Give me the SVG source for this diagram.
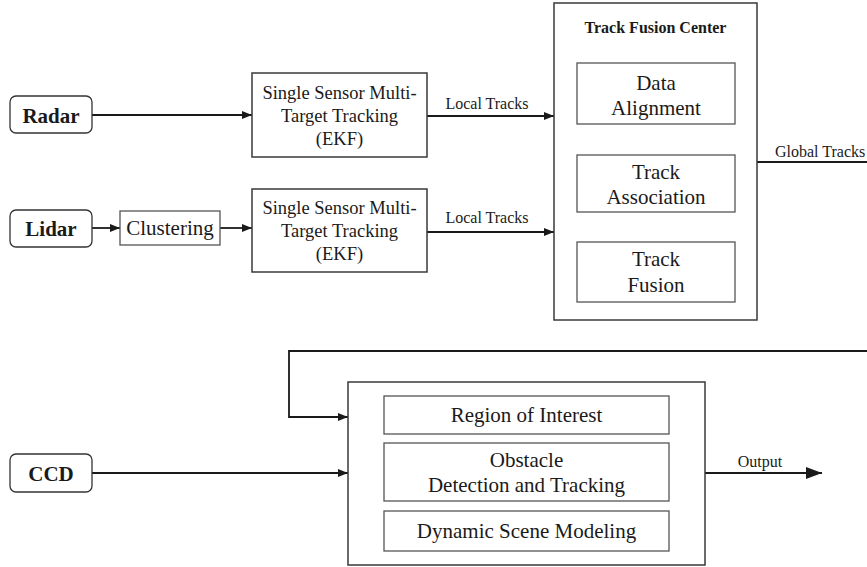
<svg xmlns="http://www.w3.org/2000/svg" width="867" height="567" viewBox="0 0 867 567">
<defs>
<style>
.t{font-family:"Liberation Serif","Times New Roman",serif;fill:#1a1a1a;text-anchor:middle}
.b{font-weight:bold}
.box{fill:#fff;stroke:#3a3a3a;stroke-width:1.5}
.inner{fill:#fff;stroke:#555;stroke-width:1.3}
.src{fill:#fff;stroke:#333;stroke-width:1.3}
.ln{fill:none;stroke:#1a1a1a;stroke-width:1.8}
</style>
<marker id="ah" viewBox="0 0 10 8" refX="10" refY="4" markerWidth="10" markerHeight="8" markerUnits="userSpaceOnUse" orient="auto">
<path d="M0,0 L10,4 L0,8 Z" fill="#1a1a1a"/>
</marker>
<marker id="ahBig" viewBox="0 0 16 12" refX="16" refY="6" markerWidth="16" markerHeight="12" markerUnits="userSpaceOnUse" orient="auto">
<path d="M0,0 L16,6 L0,12 Z" fill="#1a1a1a"/>
</marker>
</defs>
<rect width="867" height="567" fill="#fff"/>

<g id="connectors">
<line class="ln" x1="92" y1="115" x2="252" y2="115" marker-end="url(#ah)"/>
<line class="ln" x1="92" y1="228" x2="120" y2="228" marker-end="url(#ah)"/>
<line class="ln" x1="220" y1="228" x2="252" y2="228" marker-end="url(#ah)"/>
<line class="ln" x1="427" y1="116" x2="554" y2="116" marker-end="url(#ah)"/>
<line class="ln" x1="427" y1="232" x2="554" y2="232" marker-end="url(#ah)"/>
<line class="ln" x1="757" y1="162" x2="867" y2="162"/>
<polyline class="ln" points="867,351 289,351 289,417 348,417" marker-end="url(#ah)"/>
<line class="ln" x1="92" y1="473" x2="348" y2="473" marker-end="url(#ah)"/>
<line class="ln" x1="705" y1="473" x2="822" y2="473" stroke-width="3" marker-end="url(#ahBig)"/>
<text class="t" x="487" y="109" font-size="16">Local Tracks</text>
<text class="t" x="487" y="223" font-size="16">Local Tracks</text>
<text class="t" x="775" y="156.5" font-size="16" text-anchor="start" style="text-anchor:start">Global Tracks</text>
<text class="t" x="760" y="466.5" font-size="16">Output</text>
</g>

<g id="radar">
<rect class="src" x="10" y="96" width="82" height="37" rx="6"/>
<text class="t b" x="51" y="122.5" font-size="21">Radar</text>
</g>
<g id="lidar">
<rect class="src" x="10" y="210" width="82" height="37" rx="6"/>
<text class="t b" x="51" y="236" font-size="21">Lidar</text>
</g>
<g id="ccd">
<rect class="src" x="10" y="454" width="82" height="38" rx="6"/>
<text class="t b" x="51" y="480.5" font-size="21">CCD</text>
</g>
<g id="clustering">
<rect class="inner" x="120" y="211" width="100" height="34"/>
<text class="t" x="170" y="235" font-size="21">Clustering</text>
</g>
<g id="ssmt1">
<rect class="box" x="252" y="73" width="175" height="84"/>
<text class="t" x="339.5" y="98.5" font-size="18.5">Single Sensor Multi-</text>
<text class="t" x="339.5" y="121.5" font-size="18.5">Target Tracking</text>
<text class="t" x="339.5" y="144.5" font-size="18.5">(EKF)</text>
</g>
<g id="ssmt2">
<rect class="box" x="252" y="189" width="175" height="83"/>
<text class="t" x="339.5" y="214" font-size="18.5">Single Sensor Multi-</text>
<text class="t" x="339.5" y="237" font-size="18.5">Target Tracking</text>
<text class="t" x="339.5" y="260" font-size="18.5">(EKF)</text>
</g>
<g id="track-fusion-center">
<rect class="box" x="554" y="3" width="203" height="317" stroke-width="1.8"/>
<text class="t b" x="655.5" y="32.5" font-size="16">Track Fusion Center</text>
</g>
<g id="data-alignment">
<rect class="inner" x="577" y="63" width="158" height="61"/>
<text class="t" x="656" y="89.5" font-size="21">Data</text>
<text class="t" x="656" y="114.5" font-size="21">Alignment</text>
</g>
<g id="track-association">
<rect class="inner" x="577" y="155" width="158" height="57"/>
<text class="t" x="656" y="179" font-size="21">Track</text>
<text class="t" x="656" y="204" font-size="21">Association</text>
</g>
<g id="track-fusion">
<rect class="inner" x="577" y="242" width="158" height="60"/>
<text class="t" x="656" y="266" font-size="21">Track</text>
<text class="t" x="656" y="292" font-size="21">Fusion</text>
</g>
<g id="vision-module">
<rect class="box" x="348" y="382" width="357" height="183" stroke-width="1.8"/>
</g>
<g id="region-of-interest">
<rect class="inner" x="384" y="396" width="285" height="38"/>
<text class="t" x="526.5" y="422" font-size="21">Region of Interest</text>
</g>
<g id="obstacle-detection">
<rect class="inner" x="384" y="443" width="285" height="58"/>
<text class="t" x="526.5" y="467" font-size="21">Obstacle</text>
<text class="t" x="526.5" y="492" font-size="21">Detection and Tracking</text>
</g>
<g id="dynamic-scene-modeling">
<rect class="inner" x="384" y="511" width="285" height="40"/>
<text class="t" x="526.5" y="538" font-size="21">Dynamic Scene Modeling</text>
</g>
</svg>
